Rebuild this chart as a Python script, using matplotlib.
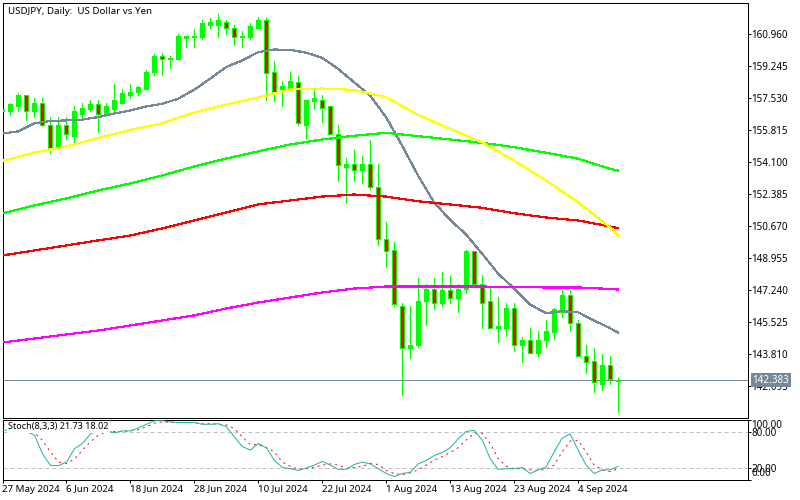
"""USDJPY daily candles with moving averages and a stochastic sub-window."""

import matplotlib

matplotlib.use("Agg")
import matplotlib.pyplot as plt
import numpy as np

plt.rcParams["font.family"] = ["Noto Sans", "DejaVu Sans"]

WIDTH, HEIGHT = 800, 500
DPI = 100
ONE_PX = 72 / DPI

# candle number -1 is 27 May, it sits half under the left frame
days = list(range(-1, 77))

opens = [
    156.83, 156.78, 157.10, 157.64, 156.78, 157.21, 156.08, 154.85, 156.08, 155.49,
    156.62, 156.94, 157.16, 156.67, 156.94, 157.26, 157.69, 157.80, 158.01, 158.87,
    159.78, 159.57, 159.62, 160.72, 160.75, 160.75, 161.39, 161.39, 161.60, 161.23,
    160.75, 160.75, 161.28, 161.71, 158.87, 158.01, 157.96, 158.34, 156.08, 157.32,
    157.42, 157.05, 155.55, 153.83, 153.94, 153.62, 153.99, 152.71, 149.97, 149.38,
    146.38, 144.13, 144.29, 146.60, 147.24, 146.49, 147.19, 146.76, 147.29, 149.28,
    147.56, 146.60, 145.15, 145.15, 146.27, 144.24, 144.51, 143.86, 144.56, 144.94,
    146.06, 146.92, 145.47, 143.70, 143.43, 142.15, 143.17, 142.36,
]
highs = [
    157.10, 157.21, 157.75, 157.69, 157.48, 157.48, 156.46, 156.46, 156.46, 157.10,
    157.21, 157.42, 157.37, 157.21, 158.28, 157.96, 158.23, 158.12, 158.98, 159.84,
    159.94, 159.78, 160.91, 160.85, 161.18, 161.71, 161.77, 161.98, 161.71, 161.39,
    161.12, 161.50, 161.82, 161.77, 159.46, 158.44, 158.87, 158.66, 157.42, 157.91,
    157.64, 157.10, 156.03, 154.31, 154.74, 154.37, 155.23, 153.94, 150.88, 149.76,
    146.54, 146.38, 147.88, 147.56, 147.83, 148.20, 147.94, 147.56, 149.38, 149.33,
    148.04, 147.35, 146.86, 146.54, 146.49, 144.67, 145.20, 145.04, 145.58, 146.27,
    147.19, 147.19, 145.58, 144.24, 144.08, 143.81, 143.70, 142.52,
]
lows = [
    156.62, 156.57, 156.83, 156.35, 156.51, 155.98, 154.53, 154.85, 155.33, 155.06,
    156.46, 156.78, 155.66, 156.67, 156.83, 157.21, 157.53, 157.69, 158.01, 158.71,
    158.71, 159.09, 159.62, 160.21, 160.21, 160.69, 161.28, 160.75, 160.96, 160.32,
    160.21, 160.69, 161.23, 157.37, 157.32, 157.10, 157.96, 156.03, 155.33, 156.94,
    156.24, 155.55, 153.08, 151.90, 153.08, 152.97, 152.65, 149.60, 148.47, 146.38,
    141.61, 143.59, 144.18, 145.36, 146.22, 146.38, 146.54, 146.01, 147.03, 147.56,
    145.15, 145.15, 144.40, 144.77, 143.97, 143.38, 143.86, 143.65, 144.18, 144.61,
    145.74, 145.04, 143.65, 142.79, 141.72, 141.88, 142.15, 140.65,
]
closes = [
    156.94, 157.16, 157.64, 156.78, 157.26, 156.08, 154.85, 156.08, 155.55, 156.78,
    156.99, 157.16, 156.67, 157.05, 157.37, 157.75, 157.85, 158.07, 158.92, 159.78,
    159.57, 159.67, 160.80, 160.80, 160.85, 161.50, 161.60, 161.71, 161.28, 160.75,
    160.85, 161.34, 161.71, 158.82, 157.80, 158.12, 158.39, 156.19, 157.37, 157.48,
    156.99, 155.60, 153.89, 153.94, 153.67, 153.99, 152.71, 149.97, 149.28, 146.44,
    144.13, 144.29, 146.65, 147.24, 146.54, 147.19, 146.76, 147.29, 149.28, 147.56,
    146.54, 145.20, 145.26, 146.27, 144.29, 144.51, 143.86, 144.56, 144.99, 146.17,
    146.92, 145.47, 143.70, 143.38, 142.26, 143.17, 142.42, 142.38,
]

# the averages were read every 2 or every 4 candles, plus the last one
grey_days = list(range(-1, 77, 2)) + [76]
ma_grey = [
    155.60, 155.71, 156.14, 156.27, 156.30, 156.34, 156.48, 156.67, 156.83, 157.05,
    157.19, 157.46, 157.94, 158.53, 159.16, 159.51, 159.96, 160.10, 160.09, 159.93,
    159.66, 159.07, 158.35, 157.64, 156.48, 154.96, 153.35, 151.92, 150.98, 150.19,
    149.17, 148.10, 147.29, 146.44, 145.97, 146.08, 146.02, 145.58, 145.17, 144.93,
]
ma_days = list(range(-1, 77, 4)) + [76]
ma_yellow = [
    154.12, 154.58, 154.90, 155.36, 155.79, 156.15, 156.73, 157.16, 157.53, 157.96,
    158.01, 157.94, 157.55, 156.60, 155.85, 155.13, 154.15, 153.08, 151.92, 150.58,
    150.14,
]
ma_green = [
    151.31, 151.74, 152.12, 152.55, 152.92, 153.35, 153.83, 154.26, 154.64, 155.01,
    155.28, 155.48, 155.64, 155.46, 155.28, 155.10, 154.87, 154.57, 154.25, 153.71,
    153.62,
]
ma_red = [
    149.06, 149.33, 149.60, 149.87, 150.13, 150.51, 150.94, 151.37, 151.80, 152.01,
    152.22, 152.33, 152.22, 151.97, 151.80, 151.62, 151.33, 151.10, 150.94, 150.62,
    150.53,
]
ma_magenta = [
    144.40, 144.61, 144.83, 145.04, 145.31, 145.58, 145.85, 146.22, 146.54, 146.81,
    147.08, 147.29, 147.40, 147.40, 147.40, 147.40, 147.37, 147.35, 147.35, 147.27,
    147.24,
]

stoch_main = [
    82, 82, 81, 80, 74, 43, 23.5, 23, 29, 51.5, 60, 76, 82, 81, 78, 81, 81, 86, 92, 98,
    98, 96, 95, 95, 95, 92, 92, 93, 88, 71, 55, 49, 60, 53, 32, 20, 18, 15, 19, 24,
    30, 24, 17, 17, 25, 29, 26, 18, 10, 5, 10, 12, 26, 32, 40, 45, 53, 68, 80, 82,
    66, 35, 17, 18, 18, 20, 10, 16, 21, 46, 69, 76, 49, 24, 10, 16, 16, 21.73,
]
stoch_signal = [
    92, 87, 82, 81, 78, 65, 46, 29, 27, 34, 49, 63, 74, 80, 80, 80, 81, 83, 88, 94,
    96, 95, 95, 95, 95, 93, 93, 92, 91, 85, 71, 58, 58, 53, 46, 29, 22, 17, 18, 20,
    24, 26, 24, 18.5, 20, 22, 27, 25, 15, 10, 8, 11, 16, 24, 32, 38, 45, 53, 66, 77,
    77, 60, 35, 22, 18, 18, 16, 15, 17, 24, 46, 64, 65, 46, 24, 16, 13, 18.02,
]
stoch_levels = [20, 80]
stoch_ticks = [0, 20, 80, 100]
stoch_tick_labels = ["0.00", "20.00", "80.00", "100.00"]

price_ticks = [
    142.095, 143.810, 145.525, 147.240, 148.955, 150.670,
    152.385, 154.100, 155.815, 157.530, 159.245, 160.960,
]
last_price = 142.383

date_days = [-1, 7, 15, 23, 31, 39, 47, 55, 63, 71]
date_labels = [
    "27 May 2024", "6 Jun 2024", "18 Jun 2024", "28 Jun 2024", "10 Jul 2024",
    "22 Jul 2024", "1 Aug 2024", "13 Aug 2024", "23 Aug 2024", "4 Sep 2024",
]

SLATE = "#778899"
LIME = "#00FF00"
RED = "#FF0000"
TEAL = "#20B2AA"
SILVER = "#C0C0C0"
AXIS_FONT = 7.1
DATE_FONT = 7.0


def axes_box(left, top, right, bottom):
    """Figure-fraction rectangle from pixel edges counted from the top left."""
    return [left / WIDTH, 1 - bottom / HEIGHT, (right - left) / WIDTH, (bottom - top) / HEIGHT]


def price_at(y_px):
    return 160.96 - (y_px - 33.5) * 1.715 / 32


def draw_candles(ax):
    o, h, l, c = map(np.array, (opens, highs, lows, closes))
    x = np.array(days)
    ax.vlines(x, l, h, colors=LIME, linewidth=ONE_PX, antialiased=False, zorder=2)
    up = c >= o
    fills = np.where(up, LIME, RED)
    ax.bar(
        x, np.abs(c - o), bottom=np.minimum(o, c), width=0.55, color=fills, edgecolor=LIME,
        linewidth=ONE_PX, antialiased=False, zorder=3,
    )


def draw_averages(ax):
    # agg paints every pixel a non-antialiased line touches, so keep them thin
    common = dict(linewidth=0.85, antialiased=False, zorder=4)
    ax.plot(grey_days, ma_grey, color=SLATE, **common)
    ax.plot(ma_days, ma_green, color=LIME, **common)
    ax.plot(ma_days, ma_red, color=RED, **common)
    ax.plot(ma_days, ma_magenta, color="#FF00FF", **common)
    ax.plot(ma_days, ma_yellow, color="#FFFF00", **common)


fig = plt.figure(figsize=(WIDTH / DPI, HEIGHT / DPI), dpi=DPI, facecolor="white")
ax_price = fig.add_axes(axes_box(2.5, 2.5, 747.5, 417.5))
ax_stoch = fig.add_axes(axes_box(2.5, 419.5, 747.5, 479.5))

x_range = ((2.5 - 10) / 8, (747.5 - 10) / 8)

draw_candles(ax_price)
draw_averages(ax_price)
ax_price.axhline(last_price, color=SLATE, linewidth=ONE_PX, antialiased=False, zorder=1)
ax_price.set_xlim(*x_range)
ax_price.set_ylim(price_at(417.5), price_at(2.5))
ax_price.set_xticks([])
ax_price.yaxis.tick_right()
ax_price.set_yticks(price_ticks, [f"{p:.3f}" for p in price_ticks])
ax_price.tick_params(axis="y", length=3 * ONE_PX, width=ONE_PX, pad=1 * ONE_PX, labelsize=AXIS_FONT)
ax_price.text(
    5 / 745, 1 - 8.5 / 415, "USDJPY, Daily:  US Dollar vs Yen", transform=ax_price.transAxes,
    fontsize=7.0, va="center", ha="left", color="black",
)
ax_price.annotate(
    f"{last_price:.3f}", xy=(1, last_price), xycoords=ax_price.get_yaxis_transform(),
    xytext=(5 * ONE_PX, 0), textcoords="offset points", fontsize=AXIS_FONT, color="white",
    va="center", ha="left", annotation_clip=False, zorder=10,
    bbox=dict(boxstyle="square,pad=0.15", facecolor=SLATE, edgecolor=SLATE, linewidth=0),
)

for level in stoch_levels:
    ax_stoch.axhline(level, color=SILVER, linewidth=ONE_PX, linestyle=(0, (4, 3)), zorder=1)
ax_stoch.plot(days, stoch_main, color=TEAL, linewidth=ONE_PX, zorder=3)
ax_stoch.plot(days, stoch_signal, color=RED, linewidth=ONE_PX, linestyle=(0, (2, 4)), zorder=2)
ax_stoch.set_xlim(*x_range)
ax_stoch.set_ylim(0, 100)
ax_stoch.yaxis.tick_right()
ax_stoch.set_yticks(stoch_ticks, stoch_tick_labels)
ax_stoch.tick_params(axis="y", length=3 * ONE_PX, width=ONE_PX, pad=1 * ONE_PX, labelsize=AXIS_FONT)
ax_stoch.get_yticklabels()[0].set_va("bottom")
ax_stoch.get_yticklabels()[3].set_va("top")
ax_stoch.set_xticks(date_days, date_labels, ha="left")
ax_stoch.tick_params(axis="x", length=3 * ONE_PX, width=ONE_PX, pad=2 * ONE_PX, labelsize=DATE_FONT)
ax_stoch.text(
    6 / 745, 1 - 7.5 / 60, "Stoch(8,3,3) 21.73 18.02", transform=ax_stoch.transAxes,
    fontsize=6.5, va="center", ha="left", color="black", zorder=5,
    bbox=dict(boxstyle="square,pad=0.15", facecolor="white", edgecolor="none"),
)

for ax in (ax_price, ax_stoch):
    for spine in ax.spines.values():
        spine.set_linewidth(ONE_PX)

fig.savefig("out.png", dpi=DPI)
plt.close(fig)
